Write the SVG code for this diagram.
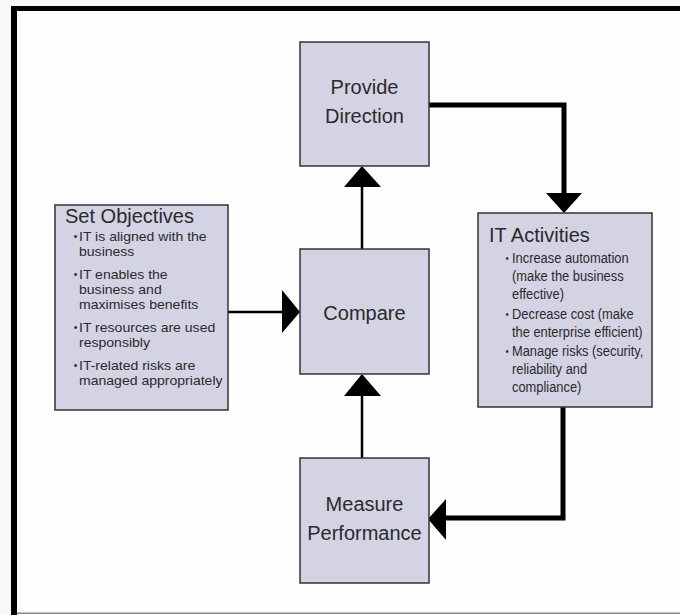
<svg xmlns="http://www.w3.org/2000/svg" width="680" height="615" viewBox="0 0 680 615">
<defs>
<style>
.box{fill:#d3d3e3;stroke:#333;stroke-width:1.5}
.t{font-family:"Liberation Sans",Arial,sans-serif;fill:#2a2a2a}
.title{font-size:20px}
.c{text-anchor:middle}
.b{font-size:13.5px}
.b2{font-size:14px}
.dot{font-size:10px}
.thin{stroke:#000;stroke-width:2.5;fill:none}
.thick{stroke:#000;stroke-width:5;fill:none}
.head{fill:#000}
</style>
</defs>
<rect x="0" y="0" width="680" height="615" fill="#f8f8f8"/>
<rect x="11" y="6" width="669" height="609" fill="#fdfdfd"/>
<rect x="11" y="6" width="669" height="5" fill="#000"/>
<rect x="11" y="6" width="6" height="609" fill="#000"/>
<rect x="17" y="612.5" width="663" height="1.5" fill="#888"/>

<g id="connectors">
<path class="thick" d="M429,105 H564 V195"/>
<polygon class="head" points="546,193 582,193 564,213"/>
<path class="thick" d="M563,407 V518 H444"/>
<polygon class="head" points="446,499 446,540 428,519"/>
<line class="thin" x1="362" y1="458" x2="362" y2="394"/>
<polygon class="head" points="344,396 381,396 362,374"/>
<line class="thin" x1="362" y1="249" x2="362" y2="185"/>
<polygon class="head" points="344,187 381,187 362,166"/>
<line class="thin" x1="228" y1="312" x2="284" y2="312"/>
<polygon class="head" points="282,290 282,333 300,312"/>
</g>

<g id="provide-direction">
<rect class="box" x="300" y="42" width="129" height="124"/>
<text class="t title c" x="364.5" y="94">Provide</text>
<text class="t title c" x="364.5" y="123">Direction</text>
</g>

<g id="compare">
<rect class="box" x="300" y="249" width="129" height="125"/>
<text class="t title c" x="364.5" y="320">Compare</text>
</g>

<g id="measure-performance">
<rect class="box" x="300" y="458" width="129" height="125"/>
<text class="t title c" x="364.5" y="511">Measure</text>
<text class="t title c" x="364.5" y="540">Performance</text>
</g>

<g id="set-objectives">
<rect class="box" x="55" y="205" width="173" height="205"/>
<text class="t title" x="65" y="223">Set Objectives</text>
<g transform="translate(79 0) scale(1.04 1)">
<text class="t dot" x="-5" y="240">•</text>
<text class="t b" x="0" y="241">IT is aligned with the</text>
<text class="t b" x="0" y="256">business</text>
<text class="t dot" x="-5" y="278">•</text>
<text class="t b" x="0" y="279">IT enables the</text>
<text class="t b" x="0" y="294">business and</text>
<text class="t b" x="0" y="309">maximises benefits</text>
<text class="t dot" x="-5" y="331">•</text>
<text class="t b" x="0" y="332">IT resources are used</text>
<text class="t b" x="0" y="347">responsibly</text>
<text class="t dot" x="-5" y="369">•</text>
<text class="t b" x="0" y="370">IT-related risks are</text>
<text class="t b" x="0" y="385">managed appropriately</text>
</g>
</g>

<g id="it-activities">
<rect class="box" x="478" y="213" width="174" height="194"/>
<text class="t title" x="489" y="242">IT Activities</text>
<g transform="translate(512 0) scale(0.92 1)">
<text class="t dot" x="-7" y="262">•</text>
<text class="t b2" x="0" y="263">Increase automation</text>
<text class="t b2" x="0" y="281">(make the business</text>
<text class="t b2" x="0" y="299">effective)</text>
<text class="t dot" x="-7" y="318">•</text>
<text class="t b2" x="0" y="319">Decrease cost (make</text>
<text class="t b2" x="0" y="337">the enterprise efficient)</text>
<text class="t dot" x="-7" y="355">•</text>
<text class="t b2" x="0" y="356">Manage risks (security,</text>
<text class="t b2" x="0" y="374">reliability and</text>
<text class="t b2" x="0" y="392">compliance)</text>
</g>
</g>
</svg>
